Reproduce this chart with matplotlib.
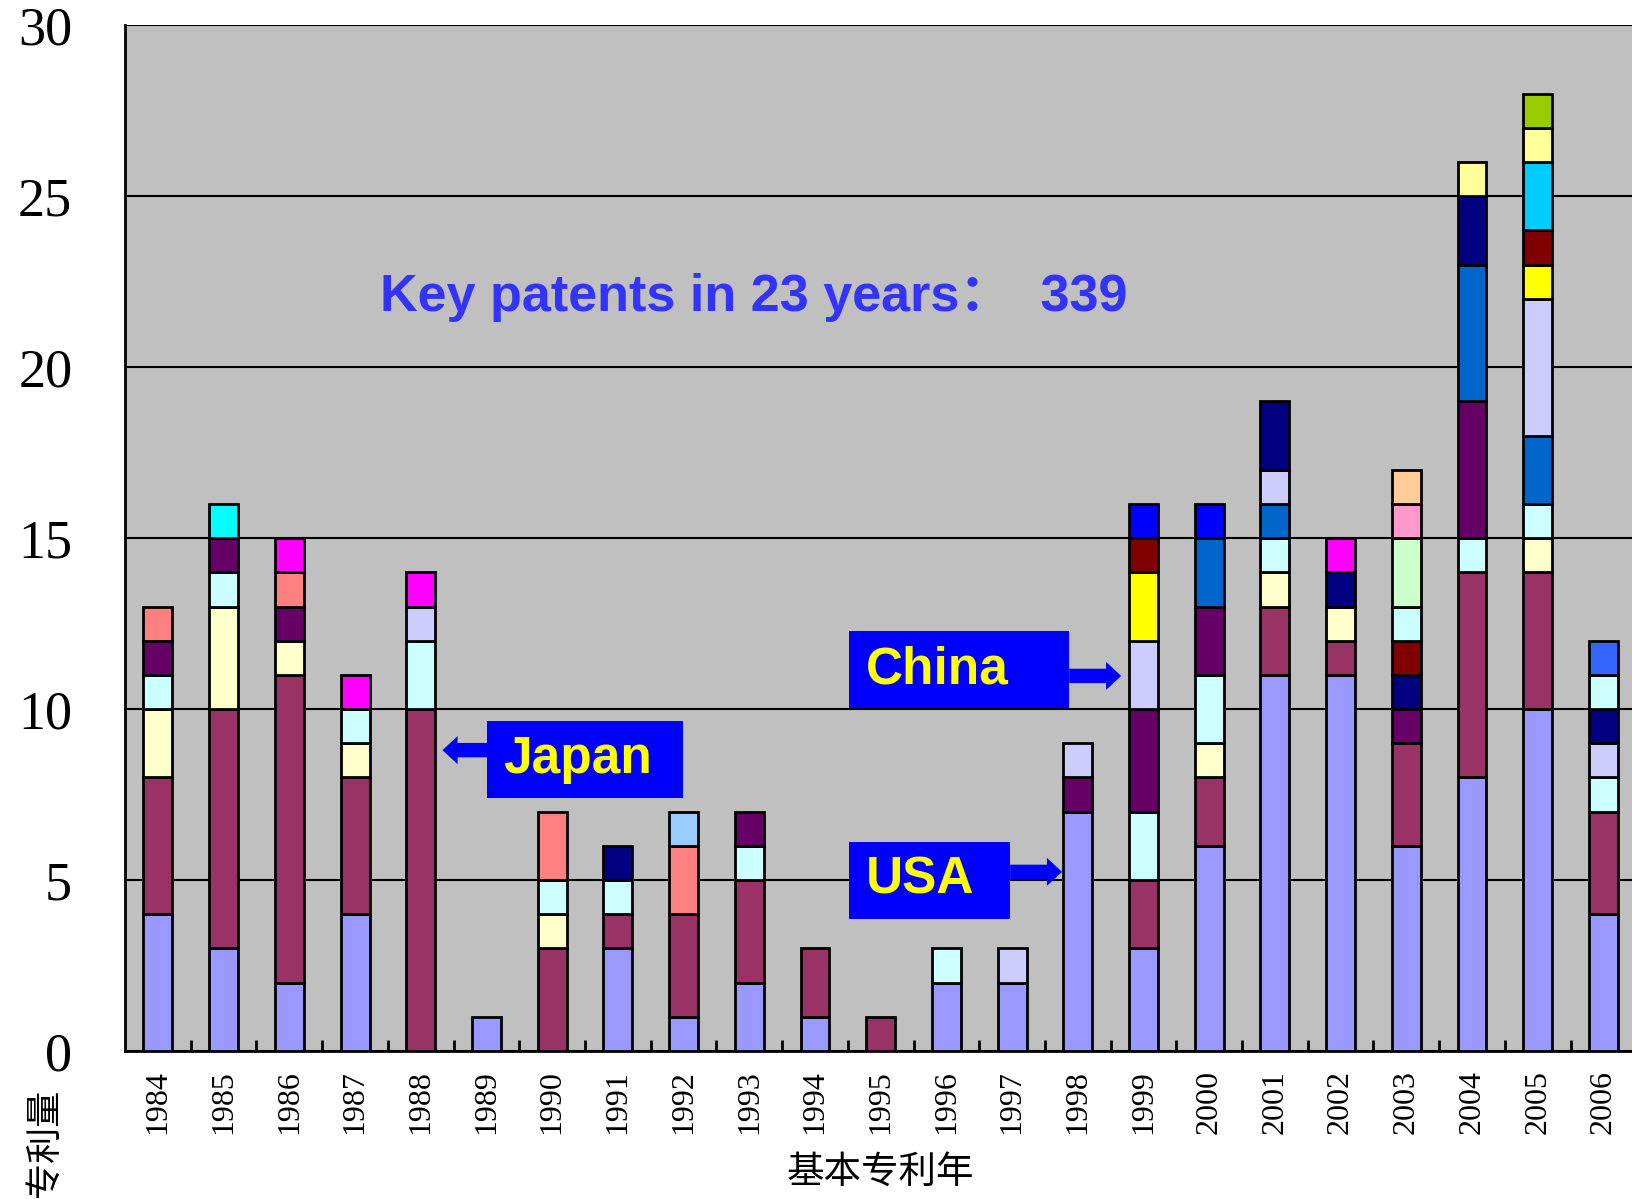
import matplotlib
matplotlib.use('Agg')
import matplotlib.pyplot as plt
from matplotlib.patches import FancyArrow, Rectangle

years = [str(y) for y in range(1984, 2007)]

# segments of each bar, bottom to top: (category, count)
stacks = [
    [('USA', 4), ('Japan', 4), ('c_ly', 2), ('c_lc', 1), ('c_pu', 1), ('c_sa', 1)],
    [('USA', 3), ('Japan', 7), ('c_ly', 3), ('c_lc', 1), ('c_pu', 1), ('c_cy', 1)],
    [('USA', 2), ('Japan', 9), ('c_ly', 1), ('c_pu', 1), ('c_sa', 1), ('c_mg', 1)],
    [('USA', 4), ('Japan', 4), ('c_ly', 1), ('c_lc', 1), ('c_mg', 1)],
    [('Japan', 10), ('c_lc', 2), ('China', 1), ('c_mg', 1)],
    [('USA', 1)],
    [('Japan', 3), ('c_ly', 1), ('c_lc', 1), ('c_sa', 2)],
    [('USA', 3), ('Japan', 1), ('c_lc', 1), ('c_nv', 1)],
    [('USA', 1), ('Japan', 3), ('c_sa', 2), ('c_lb', 1)],
    [('USA', 2), ('Japan', 3), ('c_lc', 1), ('c_pu', 1)],
    [('USA', 1), ('Japan', 2)],
    [('Japan', 1)],
    [('USA', 2), ('c_lc', 1)],
    [('USA', 2), ('China', 1)],
    [('USA', 7), ('c_pu', 1), ('China', 1)],
    [('USA', 3), ('Japan', 2), ('c_lc', 2), ('c_pu', 3), ('China', 2), ('c_ye', 2), ('c_dr', 1), ('c_bl', 1)],
    [('USA', 6), ('Japan', 2), ('c_ly', 1), ('c_lc', 2), ('c_pu', 2), ('c_mb', 2), ('c_bl', 1)],
    [('USA', 11), ('Japan', 2), ('c_ly', 1), ('c_lc', 1), ('c_mb', 1), ('China', 1), ('c_nv', 2)],
    [('USA', 11), ('Japan', 1), ('c_ly', 1), ('c_nv', 1), ('c_mg', 1)],
    [('USA', 6), ('Japan', 3), ('c_pu', 1), ('c_nv', 1), ('c_dr', 1), ('c_lc', 1), ('c_lg', 2), ('c_pk', 1), ('c_pe', 1)],
    [('USA', 8), ('Japan', 6), ('c_lc', 1), ('c_pu', 4), ('c_mb', 4), ('c_nv', 2), ('c_lm', 1)],
    [('USA', 10), ('Japan', 4), ('c_ly', 1), ('c_lc', 1), ('c_mb', 2), ('China', 4), ('c_ye', 1), ('c_dr', 1), ('c_sk', 2), ('c_lm', 1), ('c_ol', 1)],
    [('USA', 4), ('Japan', 3), ('c_lc', 1), ('China', 1), ('c_nv', 1), ('c_lc', 1), ('c_ro', 1)],
]

colors = {
    'USA': '#9999FF', 'Japan': '#993366', 'China': '#CCCCFF',
    'c_ly': '#FFFFCC', 'c_lc': '#CCFFFF', 'c_pu': '#660066', 'c_sa': '#FF8080',
    'c_cy': '#00FFFF', 'c_mg': '#FF00FF', 'c_nv': '#000080', 'c_lb': '#99CCFF',
    'c_ye': '#FFFF00', 'c_dr': '#800000', 'c_bl': '#0000FF', 'c_mb': '#0066CC',
    'c_lg': '#CCFFCC', 'c_pk': '#FF99CC', 'c_pe': '#FFCC99', 'c_lm': '#FFFF99',
    'c_sk': '#00CCFF', 'c_ol': '#99CC00', 'c_ro': '#3366FF',
}

fig = plt.figure(figsize=(16.33, 11.99), dpi=100)
ax = fig.add_axes([0.0766, 0.1234, 0.9234, 0.8556])
ax.set_facecolor('#C0C0C0')

for i, segs in enumerate(stacks):
    bottom = 0
    for cat, n in segs:
        ax.bar(i, n, bottom=bottom, width=0.44, color=colors[cat],
               edgecolor='black', linewidth=2.0, zorder=3)
        bottom += n

ax.set_xlim(-0.5, 22.45)
ax.set_ylim(0, 30)
ax.set_yticks(range(0, 31, 5))
ax.yaxis.grid(True, color='black', linewidth=1.5, zorder=1)
ax.set_axisbelow(True)
for s in ['top', 'right']:
    ax.spines[s].set_visible(False)
for s in ['left', 'bottom']:
    ax.spines[s].set_linewidth(2)

ax.set_xticks(range(len(years)))
ax.set_xticklabels(years, rotation=90, fontsize=23, family='Liberation Serif')
ax.set_xticks([i + 0.5 for i in range(len(years) - 1)], minor=True)
ax.tick_params(axis='x', which='major', length=0, pad=14)
ax.tick_params(axis='x', which='minor', direction='in', length=8, width=2)
ax.tick_params(axis='y', length=0, pad=38, labelsize=39)
for lab in ax.get_yticklabels():
    lab.set_family('Liberation Serif')

fig.text(0.539, 0.0225, '基本专利年', fontsize=27, family=['Noto Sans CJK SC'],
         ha='center', va='center')
fig.text(0.0276, 0.047, '专利量', fontsize=26, family=['Noto Sans CJK SC'],
         rotation=90, ha='center', va='center')

ax.text(3.38, 22.05, 'Key patents in 23 years：  339', color='#3333FF',
        fontsize=37.5, fontweight='bold', family=['Liberation Sans', 'Noto Sans CJK SC'],
        va='center', ha='left', zorder=5)

# country call-outs: box (x0, x1, y0, y1), arrow start x, tip x, arrow y
boxes = [
    ('Japan', 5.01, 7.99, 7.40, 9.66, 5.01, 4.33, 8.80),
    ('China', 10.52, 13.87, 10.02, 12.28, 13.87, 14.66, 10.97),
    ('USA', 10.52, 12.97, 3.87, 6.12, 12.97, 13.76, 5.24),
]
for name, x0, x1, y0, y1, ax0, tip, ay in boxes:
    ax.add_patch(Rectangle((x0, y0), x1 - x0, y1 - y0, facecolor='#0000FF',
                           edgecolor='none', zorder=5))
    ax.text(x0 + 0.25, (y0 + y1) / 2, name, color='#FFFF00', fontsize=37,
            fontweight='bold', family='Liberation Sans', va='center', ha='left', zorder=6)
    ax.add_patch(FancyArrow(ax0, ay, tip - ax0, 0, width=0.42, head_width=0.82,
                            head_length=0.23, length_includes_head=True,
                            facecolor='#0000FF', edgecolor='none', zorder=5))

fig.savefig('out.png', dpi=100)
